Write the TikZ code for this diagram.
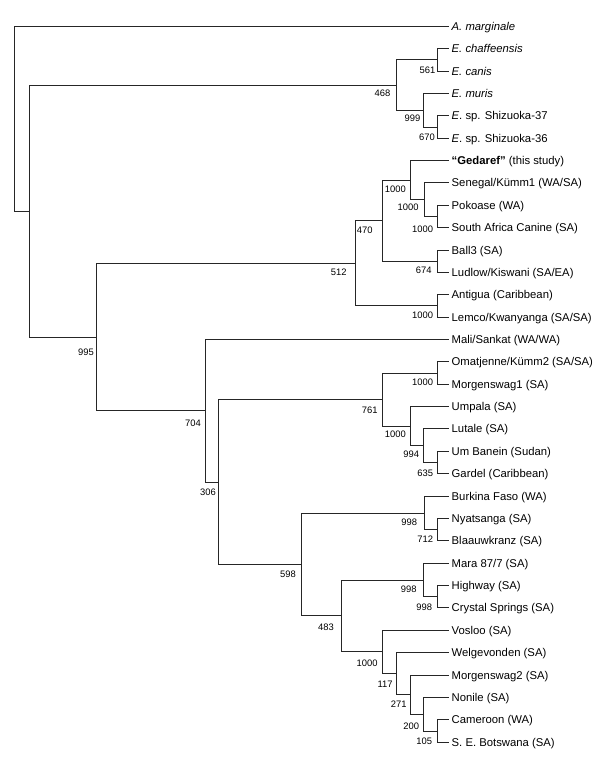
\documentclass[tikz,border=0pt]{standalone}
\usepackage{fontspec}
\setmainfont{Liberation Sans}
\begin{document}
\begin{tikzpicture}[x=1pt,y=-1pt,
  br/.style={draw=black!85,line width=1pt},
  leaf/.style={anchor=west,inner xsep=2.5pt,inner ysep=0pt,text height=8pt,text depth=0pt,font=\fontsize{11.3}{13}\selectfont},
  bs/.style={anchor=east,inner sep=0pt,text height=6.8pt,text depth=0pt,font=\fontsize{9.4}{11}\selectfont}]
\useasboundingbox (0,0) rectangle (600,765);
% leaves
\node[leaf] (L0) at (449,26.5) {\textit{A. marginale}};
\node[leaf] (L1) at (449,48.5) {\textit{E. chaffeensis}};
\node[leaf] (L2) at (449,71.5) {\textit{E. canis}};
\node[leaf] (L3) at (449,93.5) {\textit{E. muris}};
\node[leaf] (L4) at (449,115.5) {\textit{E}. sp. Shizuoka-37};
\node[leaf] (L5) at (449,138.5) {\textit{E}. sp. Shizuoka-36};
\node[leaf] (L6) at (449,160.5) {\textbf{“Gedaref”} (this study)};
\node[leaf] (L7) at (449,182.5) {Senegal/Kümm1 (WA/SA)};
\node[leaf] (L8) at (449,205.5) {Pokoase (WA)};
\node[leaf] (L9) at (449,227.5) {South Africa Canine (SA)};
\node[leaf] (L10) at (449,250.5) {Ball3 (SA)};
\node[leaf] (L11) at (449,272.5) {Ludlow/Kiswani (SA/EA)};
\node[leaf] (L12) at (449,294.5) {Antigua (Caribbean)};
\node[leaf] (L13) at (449,317.5) {Lemco/Kwanyanga (SA/SA)};
\node[leaf] (L14) at (449,339.5) {Mali/Sankat (WA/WA)};
\node[leaf] (L15) at (449,361.5) {Omatjenne/Kümm2 (SA/SA)};
\node[leaf] (L16) at (449,384.5) {Morgenswag1 (SA)};
\node[leaf] (L17) at (449,406.5) {Umpala (SA)};
\node[leaf] (L18) at (449,428.5) {Lutale (SA)};
\node[leaf] (L19) at (449,451.5) {Um Banein (Sudan)};
\node[leaf] (L20) at (449,473.5) {Gardel (Caribbean)};
\node[leaf] (L21) at (449,496.5) {Burkina Faso (WA)};
\node[leaf] (L22) at (449,518.5) {Nyatsanga (SA)};
\node[leaf] (L23) at (449,540.5) {Blaauwkranz (SA)};
\node[leaf] (L24) at (449,563.5) {Mara 87/7 (SA)};
\node[leaf] (L25) at (449,585.5) {Highway (SA)};
\node[leaf] (L26) at (449,607.5) {Crystal Springs (SA)};
\node[leaf] (L27) at (449,630.5) {Vosloo (SA)};
\node[leaf] (L28) at (449,652.5) {Welgevonden (SA)};
\node[leaf] (L29) at (449,675.5) {Morgenswag2 (SA)};
\node[leaf] (L30) at (449,697.5) {Nonile (SA)};
\node[leaf] (L31) at (449,719.5) {Cameroon (WA)};
\node[leaf] (L32) at (449,742.5) {S. E. Botswana (SA)};
% internal nodes
\coordinate (nchaf) at (437.5,59.5);
\coordinate (nsh) at (437.5,127.5);
\coordinate (nmur) at (423.5,110.5);
\coordinate (n468) at (396.5,85.5);
\coordinate (npok) at (437.5,216.5);
\coordinate (nsen) at (424.5,199.5);
\coordinate (nged) at (410.5,180.5);
\coordinate (nball) at (437.5,261.5);
\coordinate (n470) at (382.5,220.5);
\coordinate (nant) at (437.5,305.5);
\coordinate (n512) at (355.5,263.5);
\coordinate (noma) at (437.5,373.5);
\coordinate (numb) at (437.5,462.5);
\coordinate (nlut) at (423.5,445.5);
\coordinate (nump) at (410.5,426.5);
\coordinate (n761) at (382.5,399.5);
\coordinate (nnya) at (437.5,529.5);
\coordinate (nbur) at (424.5,513.5);
\coordinate (nhig) at (437.5,596.5);
\coordinate (nmar) at (423.5,580.5);
\coordinate (ncam) at (437.5,731.5);
\coordinate (nnon) at (423.5,714.5);
\coordinate (nmor) at (410.5,694.5);
\coordinate (nwel) at (396.5,673.5);
\coordinate (nvos) at (382.5,651.5);
\coordinate (n483) at (341.5,615.5);
\coordinate (n598) at (301.5,564.5);
\coordinate (n306) at (218.5,482.5);
\coordinate (n704) at (205.5,410.5);
\coordinate (n995) at (96.5,337.5);
\coordinate (n2) at (29.5,211.5);
\coordinate (root) at (14.5,118.5);
% branches
\draw[br] (root) |- (L0.west); \draw[br] (root) |- (n2);
\draw[br] (n2) |- (n468); \draw[br] (n2) |- (n995);
\draw[br] (n468) |- (nchaf); \draw[br] (n468) |- (nmur);
\draw[br] (nchaf) |- (L1.west); \draw[br] (nchaf) |- (L2.west);
\draw[br] (nmur) |- (L3.west); \draw[br] (nmur) |- (nsh);
\draw[br] (nsh) |- (L4.west); \draw[br] (nsh) |- (L5.west);
\draw[br] (n995) |- (n512); \draw[br] (n995) |- (n704);
\draw[br] (n512) |- (n470); \draw[br] (n512) |- (nant);
\draw[br] (n470) |- (nged); \draw[br] (n470) |- (nball);
\draw[br] (nged) |- (L6.west); \draw[br] (nged) |- (nsen);
\draw[br] (nsen) |- (L7.west); \draw[br] (nsen) |- (npok);
\draw[br] (npok) |- (L8.west); \draw[br] (npok) |- (L9.west);
\draw[br] (nball) |- (L10.west); \draw[br] (nball) |- (L11.west);
\draw[br] (nant) |- (L12.west); \draw[br] (nant) |- (L13.west);
\draw[br] (n704) |- (L14.west); \draw[br] (n704) |- (n306);
\draw[br] (n306) |- (n761); \draw[br] (n306) |- (n598);
\draw[br] (n761) |- (noma); \draw[br] (n761) |- (nump);
\draw[br] (noma) |- (L15.west); \draw[br] (noma) |- (L16.west);
\draw[br] (nump) |- (L17.west); \draw[br] (nump) |- (nlut);
\draw[br] (nlut) |- (L18.west); \draw[br] (nlut) |- (numb);
\draw[br] (numb) |- (L19.west); \draw[br] (numb) |- (L20.west);
\draw[br] (n598) |- (nbur); \draw[br] (n598) |- (n483);
\draw[br] (nbur) |- (L21.west); \draw[br] (nbur) |- (nnya);
\draw[br] (nnya) |- (L22.west); \draw[br] (nnya) |- (L23.west);
\draw[br] (n483) |- (nmar); \draw[br] (n483) |- (nvos);
\draw[br] (nmar) |- (L24.west); \draw[br] (nmar) |- (nhig);
\draw[br] (nhig) |- (L25.west); \draw[br] (nhig) |- (L26.west);
\draw[br] (nvos) |- (L27.west); \draw[br] (nvos) |- (nwel);
\draw[br] (nwel) |- (L28.west); \draw[br] (nwel) |- (nmor);
\draw[br] (nmor) |- (L29.west); \draw[br] (nmor) |- (nnon);
\draw[br] (nnon) |- (L30.west); \draw[br] (nnon) |- (ncam);
\draw[br] (ncam) |- (L31.west); \draw[br] (ncam) |- (L32.west);
% bootstrap values
\node[bs] (b561) at (435.5,70) {561};
\node[bs] (b468) at (390.5,92.7) {468};
\node[bs] (b999) at (420.5,118.3) {999};
\node[bs] (b670) at (435,137.5) {670};
\node[bs] (bged) at (406,189.3) {1000};
\node[bs] (bsen) at (418.7,207.3) {1000};
\node[bs] (bpok) at (433.3,228.7) {1000};
\node[bs] (b470) at (372.7,230) {470};
\node[bs] (b512) at (346.7,271.7) {512};
\node[bs] (b674) at (431.7,270) {674};
\node[bs] (bant) at (433.3,315) {1000};
\node[bs] (b995) at (94,351.7) {995};
\node[bs] (b704) at (201,422.7) {704};
\node[bs] (b306) at (216,492.3) {306};
\node[bs] (boma) at (433.3,381.7) {1000};
\node[bs] (b761) at (377.7,410) {761};
\node[bs] (bump) at (406,434.3) {1000};
\node[bs] (b994) at (419.3,454) {994};
\node[bs] (b635) at (433.3,472.7) {635};
\node[bs] (b598) at (296,574) {598};
\node[bs] (bbur) at (417.3,522.3) {998};
\node[bs] (b712) at (433.3,539.3) {712};
\node[bs] (bmar) at (416.7,589.3) {998};
\node[bs] (bhig) at (432.3,606.7) {998};
\node[bs] (b483) at (334,627.3) {483};
\node[bs] (bvos) at (377.7,662.7) {1000};
\node[bs] (b117) at (392.7,684) {117};
\node[bs] (b271) at (406.7,704) {271};
\node[bs] (b200) at (419.3,726) {200};
\node[bs] (b105) at (432.3,740.7) {105};
\end{tikzpicture}
\end{document}
